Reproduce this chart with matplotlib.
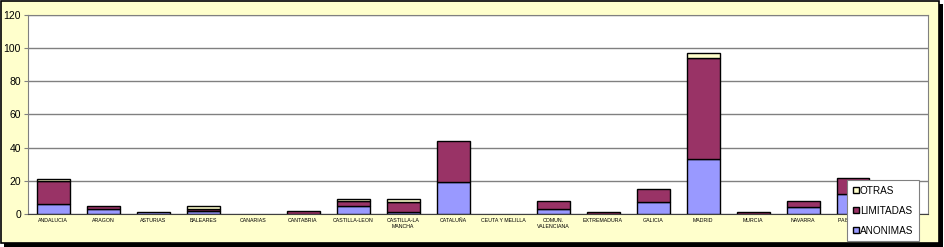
import numpy as np
import matplotlib.pyplot as plt
from matplotlib.patches import Rectangle

# comunidades autónomas
regiones = ['ANDALUCIA', 'ARAGON', 'ASTURIAS', 'BALEARES', 'CANARIAS', 'CANTABRIA',
            'CASTILLA-LEON', 'CASTILLA-LA\nMANCHA', 'CATALUÑA', 'CEUTA Y MELILLA',
            'COMUN.\nVALENCIANA', 'EXTREMADURA', 'GALICIA', 'MADRID', 'MURCIA',
            'NAVARRA', 'PAIS VASCO']
anonimas = [6, 3, 1, 2, 0, 0, 5, 1, 19, 0, 3, 0, 7, 33, 0, 4, 12]
limitadas = [14, 2, 0, 1, 0, 2, 3, 6, 25, 0, 5, 1, 8, 61, 1, 4, 10]
otras = [1, 0, 0, 2, 0, 0, 1, 2, 0, 0, 0, 0, 0, 3, 0, 0, 0]

plt.rcParams['font.family'] = ['Liberation Sans', 'DejaVu Sans']

fig = plt.figure(figsize=(9.44, 2.47), dpi=100)
fig.patch.set_facecolor('white')

# marco con sombra
fig.patches.append(Rectangle((4 / 944, 0), 939 / 944, 243 / 247, transform=fig.transFigure,
                             facecolor='black', edgecolor='none', zorder=-2))
fig.patches.append(Rectangle((1 / 944, 4 / 247), 938 / 944, 242 / 247, transform=fig.transFigure,
                             facecolor='#FFFFCC', edgecolor='black', linewidth=1.2, zorder=-1))

ax = fig.add_axes([28 / 944, 1 - 214 / 247, 900 / 944, 199 / 247])
ax.set_facecolor('white')

x = np.arange(len(regiones))
w = 0.66
a = np.array(anonimas)
l = np.array(limitadas)
o = np.array(otras)


def barras(vals, base, color, label):
    m = vals > 0
    return ax.bar(x[m], vals[m], w, bottom=base[m], color=color, edgecolor='black',
                  linewidth=1, label=label, zorder=3)


b1 = barras(a, np.zeros_like(a), '#9999FF', 'ANONIMAS')
b2 = barras(l, a, '#993366', 'LIMITADAS')
b3 = barras(o, a + l, '#FFFFCC', 'OTRAS')

# el eje deja un hueco vacío a la derecha (una categoría más)
ax.set_xlim(-0.5, len(regiones) + 0.5)
ax.set_ylim(0, 120)
ax.set_yticks(range(0, 121, 20))
ax.yaxis.grid(True, color='#808080', linewidth=1, zorder=0)
ax.tick_params(axis='y', labelsize=7.5, length=3, color='#808080', pad=2)
ax.set_xticks(x)
ax.set_xticklabels(regiones, fontsize=3.8, linespacing=1.1)
ax.tick_params(axis='x', length=0, pad=3)
for s in ['left', 'right', 'top']:
    ax.spines[s].set_color('#808080')
ax.spines['bottom'].set_color('#404040')

leg = ax.legend([b3, b2, b1], ['OTRAS', 'LIMITADAS', 'ANONIMAS'],
                loc='upper left', bbox_to_anchor=(847 / 944, 1 - 180 / 247), bbox_transform=fig.transFigure,
                borderaxespad=0, fontsize=7.2, frameon=True, fancybox=False,
                handlelength=0.65, handleheight=0.65, handletextpad=0.1,
                labelspacing=1.0, borderpad=0.55, framealpha=1)
leg.get_frame().set_edgecolor('#808080')
leg.get_frame().set_linewidth(0.8)

fig.savefig('out.png', dpi=100)
